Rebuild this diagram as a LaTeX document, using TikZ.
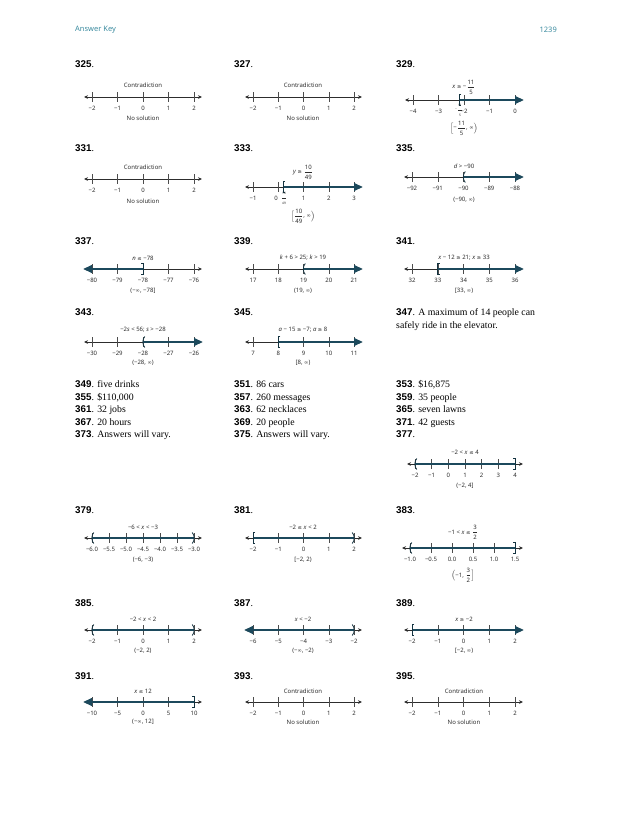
\documentclass[tikz,border=0pt]{standalone}
\usepackage{fontspec}
\usepackage{amsmath}
\setmainfont{Liberation Serif}
\newfontfamily\numf{Liberation Sans}
\newfontfamily\plf{Noto Sans}
\newfontfamily\symf{DejaVu Sans}
\usetikzlibrary{arrows.meta}
\definecolor{solc}{RGB}{28,73,92}
\definecolor{axc}{RGB}{45,45,45}
\definecolor{hdc}{RGB}{60,140,160}
\newcommand\LEs{{\symf\fontsize{5.2}{6}\selectfont ≤}}
\newcommand\GEs{{\symf\fontsize{5.2}{6}\selectfont ≥}}
\newcommand\INFs{{\symf\fontsize{5.2}{6}\selectfont ∞}}
\tikzset{
  axis/.style={draw=axc,line width=0.7pt,{Stealth[length=4pt,width=3.6pt]}-{Stealth[length=4pt,width=3.6pt]}},
  tck/.style={draw=axc!85,line width=0.5pt},
  tlab/.style={font=\plf\fontsize{6}{7}\selectfont,inner sep=0pt,text=axc},
  tiny/.style={font=\plf\fontsize{3.2}{3.6}\selectfont,inner sep=0pt,text=axc},
  sol/.style={draw=solc,line width=2.6pt},
  solarr/.style={sol,-{Triangle[length=9pt,width=7.5pt]}},
  sollarr/.style={sol,{Triangle[length=9pt,width=7.5pt]}-},
  brk/.style={draw=solc!70!black,line width=0.8pt},
  qtext/.style={anchor=base west,inner sep=0pt,font=\fontsize{9.8}{12}\selectfont},
  head/.style={inner sep=0pt,font=\plf\fontsize{7.5}{9}\selectfont,text=hdc}
}
\newcommand\qn[1]{{\numf\bfseries #1}.}
\newcommand\nl[5]{%
  \draw[axis] ({#1-8},#3) -- ({#2+8},#3);
  \foreach \lab [count=\ii from 0] in {#4} {
    \pgfmathsetmacro\xx{#1+\ii*(#2-#1)/#5}
    \draw[tck] (\xx,{#3-5}) -- (\xx,{#3+5});
    \node[tlab] at (\xx,{#3+11.5}) {\lab};
  }
}
\newcommand\lbrk[2]{\draw[brk] ({#1+2},{#2-5.5}) -- (#1,{#2-5.5}) -- (#1,{#2+5.5}) -- ({#1+2},{#2+5.5});}
\newcommand\rbrk[2]{\draw[brk] ({#1-2},{#2-5.5}) -- (#1,{#2-5.5}) -- (#1,{#2+5.5}) -- ({#1-2},{#2+5.5});}
\newcommand\lpar[2]{\draw[brk] ({#1+1.8},{#2-5.5}) .. controls ({#1-0.8},{#2-3}) and ({#1-0.8},{#2+3}) .. ({#1+1.8},{#2+5.5});}
\newcommand\rpar[2]{\draw[brk] ({#1-1.8},{#2-5.5}) .. controls ({#1+0.8},{#2-3}) and ({#1+0.8},{#2+3}) .. ({#1-1.8},{#2+5.5});}
\newcommand\fr[2]{\dfrac{\text{#1}}{\text{#2}}}
\begin{document}
\begin{tikzpicture}[x=1pt,y=-1pt]
\fill[white] (0,0) rectangle (630,815);
\useasboundingbox (0,0) rectangle (630,815);
% header
\node[head,anchor=west] (hk) at (75,30) {Answer Key};
\node[head,anchor=east] (hp) at (557,30) {1239};

% ---------- row 1
\node[qtext] (q325) at (75,67.5) {\qn{325}};
\node[qtext] (q327) at (234,67.5) {\qn{327}};
\node[qtext] (q329) at (396,67.5) {\qn{329}};
\nl{92}{194}{97}{−2,−1,0,1,2}{4}
\node[tlab] (t325) at (143,85) {Contradiction};
\node[tlab] (u325) at (143,118) {No solution};
\nl{253}{354}{97}{−2,−1,0,1,2}{4}
\node[tlab] (t327) at (303,85) {Contradiction};
\node[tlab] (u327) at (303,118) {No solution};
\nl{413}{515}{100}{−4,−3,−2,−1,0}{4}
\draw[solarr] (459,100) -- (524,100);
\lbrk{459}{100}
\node[tiny] (f329) at (459,110) {−$\fr{11}{5}$};
\node[tlab] (t329) at (464,87) {\textit{x} \GEs{} −$\fr{11}{5}$};
\node[tlab] (i329) at (464,128) {$\Bigl[\text{−}\fr{11}{5}\text{, \INFs}\Bigr)$};

% ---------- row 2
\node[qtext] (q331) at (75,151.5) {\qn{331}};
\node[qtext] (q333) at (234,151.5) {\qn{333}};
\node[qtext] (q335) at (396,151.5) {\qn{335}};
\nl{92}{194}{179}{−2,−1,0,1,2}{4}
\node[tlab] (t331) at (143,167) {Contradiction};
\node[tlab] (u331) at (143,201) {No solution};
\nl{253}{354}{187}{−1,{},1,2,3}{4}
\draw[solarr] (283,187) -- (363,187);
\lbrk{283}{187}
\node[tlab] (z333) at (276,198.5) {0};
\node[tiny] (f333) at (284,198.5) {$\fr{10}{49}$};
\node[tlab] (t333) at (303,172) {\textit{y} \GEs{} $\fr{10}{49}$};
\node[tlab] (i333) at (303,216) {$\Bigl[\fr{10}{49}\text{, \INFs}\Bigr)$};
\nl{412}{515}{177}{−92,−91,−90,−89,−88}{4}
\draw[solarr] (463.5,177) -- (524,177);
\lpar{463.5}{177}
\node[tlab] (t335) at (464,166) {\textit{d} > −90};
\node[tlab] (i335) at (464,200) {(−90, \INFs)};

% ---------- row 3
\node[qtext] (q337) at (75,244.5) {\qn{337}};
\node[qtext] (q339) at (234,244.5) {\qn{339}};
\node[qtext] (q341) at (396,244.5) {\qn{341}};
\nl{92}{194}{269}{−80,−79,−78,−77,−76}{4}
\draw[sollarr] (83,269) -- (143,269);
\rbrk{143}{269}
\node[tlab] (t337) at (143,258) {\textit{n} \LEs{} −78};
\node[tlab] (i337) at (143,291) {(−\INFs, −78]};
\nl{253}{354}{269}{17,18,19,20,21}{4}
\draw[solarr] (303.5,269) -- (363,269);
\lpar{303.5}{269}
\node[tlab] (t339) at (303,258) {\textit{k} + 6 > 25; \textit{k} > 19};
\node[tlab] (i339) at (303,291) {(19, \INFs)};
\nl{412}{515}{269}{32,33,34,35,36}{4}
\draw[solarr] (437.75,269) -- (524,269);
\lbrk{437.75}{269}
\node[tlab] (t341) at (464,258) {\textit{x} − 12 \GEs{} 21; \textit{x} \GEs{} 33};
\node[tlab] (i341) at (464,291) {[33, \INFs)};

% ---------- row 4
\node[qtext] (q343) at (75,315.5) {\qn{343}};
\node[qtext] (q345) at (234,315.5) {\qn{345}};
\node[qtext] (q347) at (396,315.5) {\qn{347} A maximum of 14 people can};
\node[qtext] (q347b) at (396,328) {safely ride in the elevator.};
\nl{92}{194}{342}{−30,−29,−28,−27,−26}{4}
\draw[solarr] (143,342) -- (203,342);
\lpar{143}{342}
\node[tlab] (t343) at (143,330) {−2\textit{s} < 56; \textit{s} > −28};
\node[tlab] (i343) at (143,363) {(−28, \INFs)};
\nl{253}{354}{342}{7,8,9,10,11}{4}
\draw[solarr] (278.25,342) -- (363,342);
\lbrk{278.25}{342}
\node[tlab] (t345) at (303,330) {\textit{a} − 15 \GEs{} −7; \textit{a} \GEs{} 8};
\node[tlab] (i345) at (303,363) {[8, \INFs)};

% ---------- text answers
\node[qtext] (q349) at (75,387.5) {\qn{349} five drinks};
\node[qtext] (q351) at (234,387.5) {\qn{351} 86 cars};
\node[qtext] (q353) at (396,387.5) {\qn{353} \$16,875};
\node[qtext] (q355) at (75,400) {\qn{355} \$110,000};
\node[qtext] (q357) at (234,400) {\qn{357} 260 messages};
\node[qtext] (q359) at (396,400) {\qn{359} 35 people};
\node[qtext] (q361) at (75,412.5) {\qn{361} 32 jobs};
\node[qtext] (q363) at (234,412.5) {\qn{363} 62 necklaces};
\node[qtext] (q365) at (396,412.5) {\qn{365} seven lawns};
\node[qtext] (q367) at (75,425) {\qn{367} 20 hours};
\node[qtext] (q369) at (234,425) {\qn{369} 20 people};
\node[qtext] (q371) at (396,425) {\qn{371} 42 guests};
\node[qtext] (q373) at (75,437.5) {\qn{373} Answers will vary.};
\node[qtext] (q375) at (234,437.5) {\qn{375} Answers will vary.};
\node[qtext] (q377) at (396,437.5) {\qn{377}};
\nl{415}{515}{464}{−2,−1,0,1,2,3,4}{6}
\draw[sol] (415,464) -- (515,464);
\lpar{415}{464}
\rbrk{515}{464}
\node[tlab] (t377) at (465,452) {−2 < \textit{x} \LEs{} 4};
\node[tlab] (i377) at (465,486) {(−2, 4]};

% ---------- row 379
\node[qtext] (q379) at (75,513.5) {\qn{379}};
\node[qtext] (q381) at (234,513.5) {\qn{381}};
\node[qtext] (q383) at (396,513.5) {\qn{383}};
\nl{92}{194}{538}{−6.0,−5.5,−5.0,−4.5,−4.0,−3.5,−3.0}{6}
\draw[sol] (92,538) -- (194,538);
\lpar{92}{538}
\rpar{194}{538}
\node[tlab] (t379) at (143,527) {−6 < \textit{x} < −3};
\node[tlab] (i379) at (143,560) {(−6, −3)};
\nl{253}{354}{538}{−2,−1,0,1,2}{4}
\draw[sol] (253,538) -- (354,538);
\lbrk{253}{538}
\rpar{354}{538}
\node[tlab] (t381) at (303,527) {−2 \LEs{} \textit{x} < 2};
\node[tlab] (i381) at (303,560) {[−2, 2)};
\nl{410}{515}{548}{−1.0,−0.5,0.0,0.5,1.0,1.5}{5}
\draw[sol] (410,548) -- (515,548);
\lpar{410}{548}
\rbrk{515}{548}
\node[tlab] (t383) at (463,532) {−1 < \textit{x} \LEs{} $\fr{3}{2}$};
\node[tlab] (i383) at (463,575) {$\Bigl(\text{−1, }\fr{3}{2}\Bigr]$};

% ---------- row 385
\node[qtext] (q385) at (75,606.5) {\qn{385}};
\node[qtext] (q387) at (234,606.5) {\qn{387}};
\node[qtext] (q389) at (396,606.5) {\qn{389}};
\nl{92}{194}{630}{−2,−1,0,1,2}{4}
\draw[sol] (92,630) -- (194,630);
\lpar{92}{630}
\rpar{194}{630}
\node[tlab] (t385) at (143,619) {−2 < \textit{x} < 2};
\node[tlab] (i385) at (143,651) {(−2, 2)};
\nl{253}{354}{630}{−6,−5,−4,−3,−2}{4}
\draw[sollarr] (244,630) -- (354,630);
\rpar{354}{630}
\node[tlab] (t387) at (303,619) {\textit{x} < −2};
\node[tlab] (i387) at (303,651) {(−\INFs, −2)};
\nl{412}{515}{630}{−2,−1,0,1,2}{4}
\draw[solarr] (412,630) -- (524,630);
\lbrk{412}{630}
\node[tlab] (t389) at (464,619) {\textit{x} \GEs{} −2};
\node[tlab] (i389) at (464,651) {[−2, \INFs)};

% ---------- row 391
\node[qtext] (q391) at (75,679.5) {\qn{391}};
\node[qtext] (q393) at (234,679.5) {\qn{393}};
\node[qtext] (q395) at (396,679.5) {\qn{395}};
\nl{92}{194}{702}{−10,−5,0,5,10}{4}
\draw[sollarr] (83,702) -- (194,702);
\rbrk{194}{702}
\node[tlab] (t391) at (143,691) {\textit{x} \LEs{} 12};
\node[tlab] (i391) at (143,722) {(−\INFs, 12]};
\nl{253}{354}{702}{−2,−1,0,1,2}{4}
\node[tlab] (t393) at (303,691) {Contradiction};
\node[tlab] (u393) at (303,722) {No solution};
\nl{412}{515}{702}{−2,−1,0,1,2}{4}
\node[tlab] (t395) at (464,691) {Contradiction};
\node[tlab] (u395) at (464,722) {No solution};
\end{tikzpicture}
\end{document}
